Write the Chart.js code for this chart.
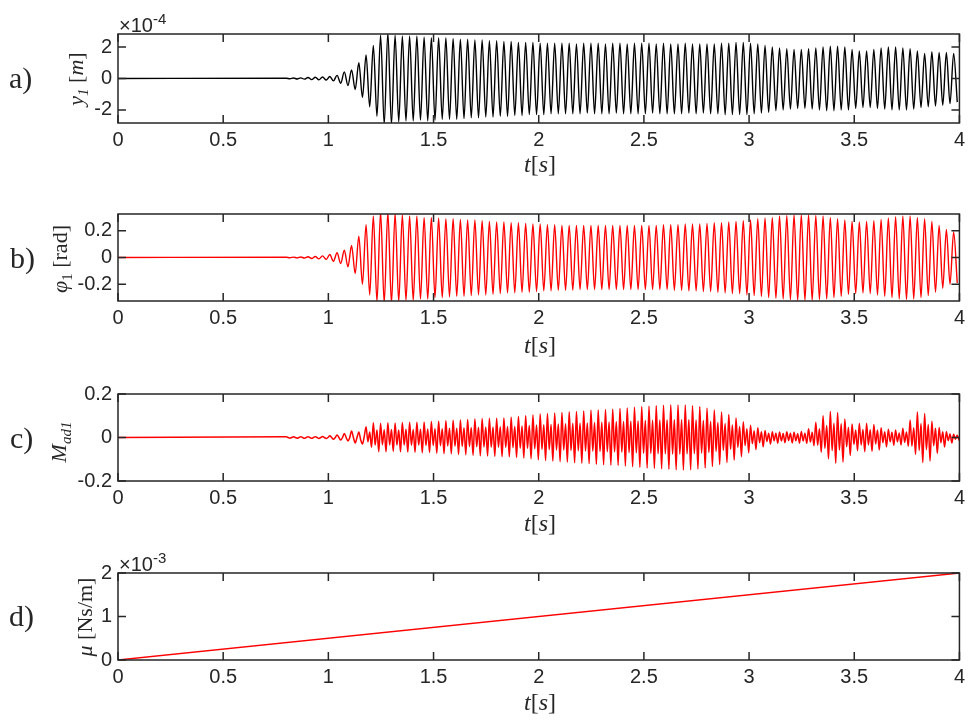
<!DOCTYPE html>
<html>
<head>
<meta charset="utf-8">
<script src="https://cdn.jsdelivr.net/npm/chart.js@4"></script>
<style>
  body { margin: 0; background: #fff; }
  #wrap { position: relative; width: 970px; height: 720px; overflow: hidden; }
  canvas { position: absolute; left: 0; }
  .lbl { position: absolute; color: #262626; white-space: nowrap; line-height: 1; }
  .tex { font-family: "Liberation Serif", "DejaVu Serif", serif; }
  .sans { font-family: "Liberation Sans", Arial, sans-serif; }
  .rot { transform: translate(-50%, -50%) rotate(-90deg); }
  .ctr { transform: translate(-50%, -50%); }
  .mid { transform: translateY(-50%); }
</style>
</head>
<body>
<div id="wrap">
  <canvas id="pa" width="970" height="180" style="top:0"></canvas>
  <canvas id="pb" width="970" height="180" style="top:180px"></canvas>
  <canvas id="pc" width="970" height="180" style="top:360px"></canvas>
  <canvas id="pd" width="970" height="180" style="top:540px"></canvas>

  <div class="lbl tex mid" style="left:9px; top:78px; font-size:30px">a)</div>
  <div class="lbl tex mid" style="left:10px; top:258px; font-size:30px">b)</div>
  <div class="lbl tex mid" style="left:10px; top:438px; font-size:30px">c)</div>
  <div class="lbl tex mid" style="left:9px; top:616px; font-size:30px">d)</div>

  <div class="lbl tex rot" style="left:78px; top:79px; font-size:22px"><i>y<sub style="font-size:15px">1</sub></i> [<i>m</i>]</div>
  <div class="lbl tex rot" style="left:62px; top:259px; font-size:22px"><i>&#966;</i><sub style="font-size:15px">1</sub> [rad]</div>
  <div class="lbl tex rot" style="left:61px; top:442px; font-size:22px"><i>M<sub style="font-size:15px">ad1</sub></i></div>
  <div class="lbl tex rot" style="left:85px; top:617px; font-size:22px"><i>&#956;</i> [Ns/m]</div>

  <div class="lbl tex ctr" style="left:540px; top:164px; font-size:24px"><i>t</i>[<i>s</i>]</div>
  <div class="lbl tex ctr" style="left:540px; top:345px; font-size:24px"><i>t</i>[<i>s</i>]</div>
  <div class="lbl tex ctr" style="left:540px; top:523px; font-size:24px"><i>t</i>[<i>s</i>]</div>
  <div class="lbl tex ctr" style="left:540px; top:702px; font-size:24px"><i>t</i>[<i>s</i>]</div>

  <div class="lbl sans" style="left:119px; top:11px; font-size:20px">&#215;10<sup style="font-size:15px">-4</sup></div>
  <div class="lbl sans" style="left:119px; top:550px; font-size:20px">&#215;10<sup style="font-size:15px">-3</sup></div>
</div>

<script>
// time axis (s)
const tMin = 0, tMax = 4;
const xTicks = [0, 0.5, 1, 1.5, 2, 2.5, 3, 3.5, 4];

// oscillation sampled at peaks/troughs, starting at oscStart
const oscStart = 0.8;
const halfStep = 1 / 58;     // y1 and phi1: one value per half cycle
const quarterStep = 1 / 116; // M_ad1: one value per quarter cycle

// a) y1 [x1e-4 m]
const yOne = [
  0.02, -0.02, 0.03, -0.03, 0.04, -0.04,
  0.06, -0.07, 0.08, -0.09, 0.1, -0.1,
  0.13, -0.15, 0.2, -0.3, 0.42, -0.45,
  0.55, -0.7, 1.0, -1.2, 1.5, -1.8,
  2.1, -2.4, 2.75, -2.85, 2.85, -2.85,
  2.75, -2.75, 2.7, -2.7, 2.7, -2.7,
  2.7, -2.65, 2.65, -2.7, 2.6, -2.65,
  2.6, -2.6, 2.6, -2.6, 2.55, -2.6,
  2.5, -2.55, 2.5, -2.5, 2.45, -2.5,
  2.45, -2.45, 2.4, -2.45, 2.4, -2.4,
  2.35, -2.4, 2.35, -2.35, 2.3, -2.35,
  2.3, -2.3, 2.3, -2.3, 2.25, -2.3,
  2.25, -2.25, 2.25, -2.25, 2.25, -2.25,
  2.25, -2.25, 2.2, -2.25, 2.25, -2.2,
  2.25, -2.25, 2.25, -2.25, 2.2, -2.25,
  2.25, -2.2, 2.25, -2.25, 2.2, -2.25,
  2.25, -2.25, 2.25, -2.25, 2.25, -2.2,
  2.2, -2.25, 2.25, -2.25, 2.2, -2.25,
  2.2, -2.25, 2.25, -2.2, 2.2, -2.25,
  2.2, -2.2, 2.2, -2.25, 2.2, -2.25,
  2.25, -2.3, 2.25, -2.3, 2.3, -2.3,
  2.3, -2.3, 2.25, -2.25, 2.2, -2.2,
  2.1, -2.15, 2.0, -2.05, 1.95, -2.0,
  1.9, -1.95, 1.85, -1.9, 1.85, -1.9,
  1.9, -1.95, 1.95, -2.0, 2.0, -2.05,
  2.05, -2.05, 2.05, -2.0, 2.0, -2.0,
  1.85, -1.9, 1.75, -1.85, 1.75, -1.85,
  1.85, -1.9, 1.95, -1.95, 2.0, -2.0,
  2.0, -2.0, 1.95, -2.0, 1.9, -1.95,
  1.75, -1.85, 1.6, -1.8, 1.7, -1.75,
  1.65, -1.7, 1.65, -1.6, 1.6, -1.5
];

// b) phi1 [rad]
const phiOne = [
  0.002, -0.002, 0.003, -0.003, 0.004, -0.004,
  0.006, -0.007, 0.008, -0.01, 0.012, -0.015,
  0.022, -0.028, 0.035, -0.045, 0.055, -0.07,
  0.09, -0.12, 0.16, -0.2, 0.245, -0.28,
  0.31, -0.33, 0.34, -0.34, 0.34, -0.34,
  0.33, -0.33, 0.32, -0.32, 0.31, -0.32,
  0.31, -0.31, 0.30, -0.31, 0.30, -0.30,
  0.295, -0.30, 0.29, -0.295, 0.29, -0.29,
  0.285, -0.29, 0.28, -0.285, 0.28, -0.28,
  0.275, -0.28, 0.27, -0.275, 0.265, -0.27,
  0.265, -0.265, 0.26, -0.265, 0.26, -0.26,
  0.255, -0.26, 0.25, -0.255, 0.25, -0.25,
  0.245, -0.25, 0.245, -0.245, 0.24, -0.245,
  0.24, -0.245, 0.24, -0.24, 0.24, -0.24,
  0.24, -0.24, 0.24, -0.24, 0.24, -0.24,
  0.24, -0.24, 0.24, -0.24, 0.24, -0.24,
  0.24, -0.24, 0.24, -0.24, 0.24, -0.24,
  0.24, -0.24, 0.245, -0.24, 0.245, -0.245,
  0.245, -0.245, 0.25, -0.25, 0.25, -0.25,
  0.25, -0.255, 0.255, -0.255, 0.26, -0.26,
  0.26, -0.265, 0.265, -0.27, 0.27, -0.27,
  0.275, -0.28, 0.28, -0.285, 0.29, -0.29,
  0.295, -0.30, 0.30, -0.305, 0.31, -0.31,
  0.315, -0.315, 0.32, -0.32, 0.32, -0.32,
  0.32, -0.32, 0.315, -0.315, 0.31, -0.31,
  0.30, -0.30, 0.29, -0.29, 0.28, -0.275,
  0.27, -0.27, 0.265, -0.265, 0.27, -0.27,
  0.275, -0.28, 0.285, -0.29, 0.295, -0.30,
  0.305, -0.31, 0.31, -0.315, 0.31, -0.31,
  0.30, -0.30, 0.29, -0.285, 0.27, -0.26,
  0.24, -0.23, 0.21, -0.2, 0.19, -0.19
];

// c) M_ad1, four values per cycle
const mAd = [
  0.003, 0, -0.003, 0,   0.003, 0, -0.003, 0,
  0.004, 0, -0.004, 0,   0.004, 0, -0.004, 0,
  0.004, 0, -0.005, 0,   0.005, 0, -0.005, 0,
  0.008, 0, -0.008, 0,   0.012, 0, -0.012, 0,
  0.018, 0, -0.016, 0,   0.03, 0, -0.025, 0,
  0.025, -0.01, -0.03, 0.005,   0.05, -0.02, 0.025, -0.045,
  0.068, -0.035, 0.035, -0.065,   0.066, -0.033, 0.036, -0.066,
  0.068, -0.034, 0.037, -0.064,   0.067, -0.035, 0.035, -0.066,
  0.069, -0.035, 0.038, -0.067,   0.07, -0.036, 0.037, -0.068,
  0.07, -0.035, 0.038, -0.07,   0.071, -0.037, 0.039, -0.069,
  0.073, -0.037, 0.04, -0.072,   0.075, -0.038, 0.04, -0.074,
  0.077, -0.039, 0.042, -0.075,   0.079, -0.04, 0.043, -0.078,
  0.081, -0.041, 0.045, -0.079,   0.083, -0.042, 0.046, -0.082,
  0.085, -0.043, 0.047, -0.084,   0.087, -0.044, 0.048, -0.085,
  0.088, -0.045, 0.048, -0.087,   0.089, -0.045, 0.049, -0.088,
  0.09, -0.046, 0.05, -0.089,   0.093, -0.047, 0.051, -0.091,
  0.096, -0.049, 0.053, -0.094,   0.1, -0.05, 0.055, -0.098,
  0.104, -0.052, 0.057, -0.102,   0.108, -0.055, 0.059, -0.106,
  0.11, -0.056, 0.06, -0.108,   0.113, -0.057, 0.062, -0.111,
  0.115, -0.058, 0.063, -0.113,   0.118, -0.06, 0.065, -0.116,
  0.12, -0.061, 0.066, -0.118,   0.122, -0.062, 0.067, -0.12,
  0.125, -0.063, 0.069, -0.123,   0.127, -0.064, 0.07, -0.125,
  0.129, -0.065, 0.071, -0.127,   0.13, -0.066, 0.072, -0.128,
  0.133, -0.067, 0.073, -0.131,   0.136, -0.069, 0.075, -0.134,
  0.139, -0.07, 0.076, -0.137,   0.142, -0.072, 0.078, -0.14,
  0.144, -0.073, 0.079, -0.142,   0.146, -0.074, 0.08, -0.144,
  0.148, -0.075, 0.081, -0.146,   0.15, -0.076, 0.082, -0.148,
  0.15, -0.076, 0.082, -0.149,   0.149, -0.075, 0.082, -0.148,
  0.146, -0.074, 0.08, -0.145,   0.141, -0.071, 0.078, -0.14,
  0.135, -0.068, 0.074, -0.133,   0.126, -0.064, 0.069, -0.124,
  0.117, -0.059, 0.064, -0.115,   0.106, -0.054, 0.058, -0.104,
  0.09, -0.046, 0.05, -0.088,   0.072, -0.037, 0.04, -0.07,
  0.056, -0.029, 0.031, -0.055,   0.045, -0.024, 0.026, -0.043,
  0.032, -0.018, 0.02, -0.03,   0.027, -0.015, 0.02, -0.026,
  0.025, -0.016, 0.018, -0.024,   0.026, -0.014, 0.019, -0.025,
  0.024, -0.015, 0.017, -0.026,   0.028, -0.016, 0.02, -0.027,
  0.04, -0.021, 0.024, -0.038,   0.07, -0.036, 0.04, -0.068,
  0.1, -0.05, 0.055, -0.098,   0.12, -0.06, 0.066, -0.118,
  0.115, -0.058, 0.063, -0.113,   0.085, -0.043, 0.047, -0.083,
  0.062, -0.032, 0.035, -0.06,   0.066, -0.034, 0.037, -0.065,
  0.066, -0.034, 0.036, -0.064,   0.06, -0.03, 0.034, -0.058,
  0.045, -0.024, 0.026, -0.043,   0.038, -0.02, 0.024, -0.036,
  0.035, -0.02, 0.021, -0.034,   0.042, -0.022, 0.025, -0.04,
  0.08, -0.04, 0.045, -0.078,   0.117, -0.06, 0.064, -0.115,
  0.11, -0.056, 0.06, -0.108,   0.075, -0.038, 0.042, -0.073,
  0.046, -0.024, 0.026, -0.044,   0.026, -0.014, 0.016, -0.025,
  0.015, -0.008, 0.01, -0.014
];

// d) mu [x1e-3 Ns/m]
const muTime = [0, 4];
const muValue = [0, 2];

const RED = "#ff0000";
const AXIS = "#262626";
const TICK_LEN = 8;

function oscPoints(values, step) {
  const pts = [{ x: 0, y: 0 }];
  values.forEach((v, i) => pts.push({ x: oscStart + i * step, y: v }));
  return pts;
}

const boxPlugin = {
  id: "box",
  afterDatasetsDraw(chart) {
    const { ctx, chartArea: a, scales } = chart;
    ctx.save();
    ctx.strokeStyle = AXIS;
    ctx.lineWidth = 1.5;
    ctx.beginPath();
    scales.x.ticks.forEach((t) => {
      const px = scales.x.getPixelForValue(t.value);
      ctx.moveTo(px, a.bottom);
      ctx.lineTo(px, a.bottom - TICK_LEN);
      ctx.moveTo(px, a.top);
      ctx.lineTo(px, a.top + TICK_LEN);
    });
    scales.y.ticks.forEach((t) => {
      const py = scales.y.getPixelForValue(t.value);
      ctx.moveTo(a.left, py);
      ctx.lineTo(a.left + TICK_LEN, py);
      ctx.moveTo(a.right, py);
      ctx.lineTo(a.right - TICK_LEN, py);
    });
    ctx.stroke();
    ctx.strokeRect(a.left, a.top, a.right - a.left, a.bottom - a.top);
    ctx.restore();
  },
};

function createPanel(id, data, color, width, yMin, yMax, yTicks, padTop, padBottom) {
  const font = { family: "'Liberation Sans', Arial, sans-serif", size: 20 };
  return new Chart(document.getElementById(id), {
    type: "line",
    data: {
      datasets: [
        {
          data,
          borderColor: color,
          borderWidth: width,
          pointRadius: 0,
          cubicInterpolationMode: "monotone",
          fill: false,
        },
      ],
    },
    options: {
      responsive: false,
      animation: false,
      parsing: false,
      layout: { padding: { top: padTop, bottom: padBottom, left: 0, right: 8 } },
      plugins: { legend: { display: false }, tooltip: { enabled: false } },
      scales: {
        x: {
          type: "linear",
          min: tMin,
          max: tMax,
          afterBuildTicks: (s) => { s.ticks = xTicks.map((v) => ({ value: v })); },
          afterFit: (s) => { s.height = 30; },
          grid: { display: false, drawTicks: false },
          border: { display: false },
          ticks: { font, color: AXIS, padding: 5, maxRotation: 0, autoSkip: false, callback: (v) => String(v) },
        },
        y: {
          type: "linear",
          min: yMin,
          max: yMax,
          afterBuildTicks: (s) => { s.ticks = yTicks.map((v) => ({ value: v })); },
          afterFit: (s) => { s.width = 118; },
          grid: { display: false, drawTicks: false },
          border: { display: false },
          ticks: { font, color: AXIS, padding: 6, callback: (v) => String(v) },
        },
      },
    },
    plugins: [boxPlugin],
  });
}

createPanel("pa", oscPoints(yOne, halfStep), "#000000", 1.4, -2.83, 2.83, [-2, 0, 2], 34, 27);
createPanel("pb", oscPoints(phiOne, halfStep), RED, 1.4, -0.325, 0.325, [-0.2, 0, 0.2], 34, 29);
createPanel("pc", oscPoints(mAd, quarterStep), RED, 1.5, -0.2, 0.2, [-0.2, 0, 0.2], 34, 29);
createPanel(
  "pd",
  muTime.map((t, i) => ({ x: t, y: muValue[i] })),
  RED, 1.4, 0, 2, [0, 1, 2], 33, 30
);
</script>
</body>
</html>
